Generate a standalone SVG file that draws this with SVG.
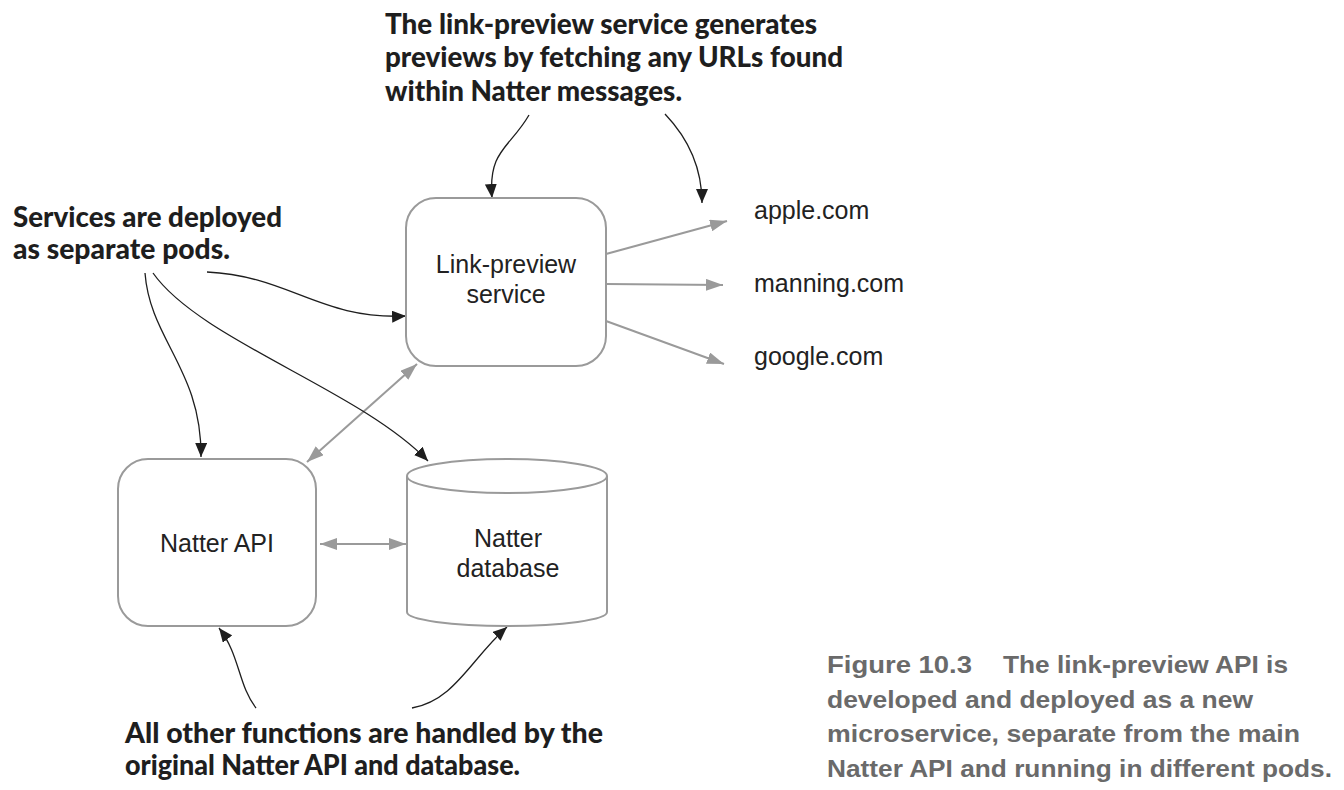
<svg xmlns="http://www.w3.org/2000/svg" width="1344" height="790" viewBox="0 0 1344 790">
<style>
.node{fill:#fff;stroke:#9a9a9a;stroke-width:2}
.nt{font-family:"Liberation Sans",Arial,sans-serif;font-size:25px;fill:#222}
.url{font-family:"Liberation Sans",Arial,sans-serif;font-size:25px;fill:#222}
.ann{font-family:Lato,"Open Sans",sans-serif;font-weight:900;font-size:28px;fill:#1e1e1e}
.cap{font-family:"Liberation Sans",Arial,sans-serif;font-weight:700;font-size:24px;fill:#6a6a6a}
.g{fill:none;stroke:#9a9a9a;stroke-width:2}
.b{fill:none;stroke:#1e1e1e;stroke-width:1.3}
</style>
<defs>
<marker id="ga" markerUnits="userSpaceOnUse" markerWidth="17" markerHeight="12" refX="17" refY="6" orient="auto-start-reverse">
<path d="M0,0 L17,6 L0,12 z" fill="#9a9a9a"/>
</marker>
<marker id="ba" markerUnits="userSpaceOnUse" markerWidth="14" markerHeight="12" refX="14" refY="6" orient="auto">
<path d="M0,0 L14,6 L0,12 z" fill="#1e1e1e"/>
</marker>
</defs>
<rect width="1344" height="790" fill="#fff"/>

<g id="connectors">
<line class="g" x1="606" y1="254" x2="727" y2="221" marker-end="url(#ga)"/>
<line class="g" x1="606" y1="284" x2="723" y2="285" marker-end="url(#ga)"/>
<line class="g" x1="606" y1="321" x2="724" y2="364" marker-end="url(#ga)"/>
<line class="g" x1="307" y1="462" x2="417" y2="364" marker-start="url(#ga)" marker-end="url(#ga)"/>
<line class="g" x1="320" y1="544" x2="406" y2="544" marker-start="url(#ga)" marker-end="url(#ga)"/>
<path class="b" d="M207,272 C290,276 320,320 406,316" marker-end="url(#ba)"/>
<path class="b" d="M145,273 C150,340 202,370 201,457" marker-end="url(#ba)"/>
<path class="b" d="M153,273 C200,340 360,390 428,461" marker-end="url(#ba)"/>
<path class="b" d="M529,115 C510,148 488,150 492,198" marker-end="url(#ba)"/>
<path class="b" d="M665,114 C685,135 702,165 702,203" marker-end="url(#ba)"/>
<path class="b" d="M256,708 C238,685 240,655 219,628" marker-end="url(#ba)"/>
<path class="b" d="M412,708 C455,700 470,660 507,627" marker-end="url(#ba)"/>
</g>

<g id="link-preview">
<rect class="node" x="406" y="198" width="200" height="168" rx="30"/>
<text class="nt" x="506" y="273" text-anchor="middle">Link-preview</text>
<text class="nt" x="506" y="303" text-anchor="middle">service</text>
</g>

<g id="natter-api">
<rect class="node" x="118" y="459" width="198" height="167" rx="30"/>
<text class="nt" x="217" y="552" text-anchor="middle">Natter API</text>
</g>

<g id="natter-db">
<path class="node" d="M407,476 L407,612 A100,14 0 0 0 607,612 L607,476"/>
<ellipse class="node" cx="507" cy="476" rx="100" ry="17"/>
<text class="nt" x="508" y="547" text-anchor="middle">Natter</text>
<text class="nt" x="508" y="577" text-anchor="middle">database</text>
</g>

<g id="apple">
<text class="url" x="754" y="219">apple.com</text>
</g>
<g id="manning">
<text class="url" x="754" y="292">manning.com</text>
</g>
<g id="google">
<text class="url" x="754" y="365">google.com</text>
</g>

<g id="annotation-top">
<text class="ann" x="385" y="34" textLength="432" lengthAdjust="spacingAndGlyphs">The link-preview service generates</text>
<text class="ann" x="385" y="67" textLength="458" lengthAdjust="spacingAndGlyphs">previews by fetching any URLs found</text>
<text class="ann" x="385" y="101" textLength="297" lengthAdjust="spacingAndGlyphs">within Natter messages.</text>
</g>

<g id="annotation-left">
<text class="ann" x="13" y="227" textLength="269" lengthAdjust="spacingAndGlyphs">Services are deployed</text>
<text class="ann" x="13" y="259" textLength="217" lengthAdjust="spacingAndGlyphs">as separate pods.</text>
</g>

<g id="annotation-bottom">
<text class="ann" x="125" y="743" textLength="478" lengthAdjust="spacingAndGlyphs">All other functions are handled by the</text>
<text class="ann" x="125" y="775" textLength="395" lengthAdjust="spacingAndGlyphs">original Natter API and database.</text>
</g>

<g id="caption">
<text class="cap" x="827" y="673" textLength="145" lengthAdjust="spacingAndGlyphs">Figure 10.3</text>
<text class="cap" x="1003" y="673" textLength="285" lengthAdjust="spacingAndGlyphs">The link-preview API is</text>
<text class="cap" x="827" y="708" textLength="426" lengthAdjust="spacingAndGlyphs">developed and deployed as a new</text>
<text class="cap" x="827" y="742" textLength="473" lengthAdjust="spacingAndGlyphs">microservice, separate from the main</text>
<text class="cap" x="827" y="777" textLength="505" lengthAdjust="spacingAndGlyphs">Natter API and running in different pods.</text>
</g>
</svg>
